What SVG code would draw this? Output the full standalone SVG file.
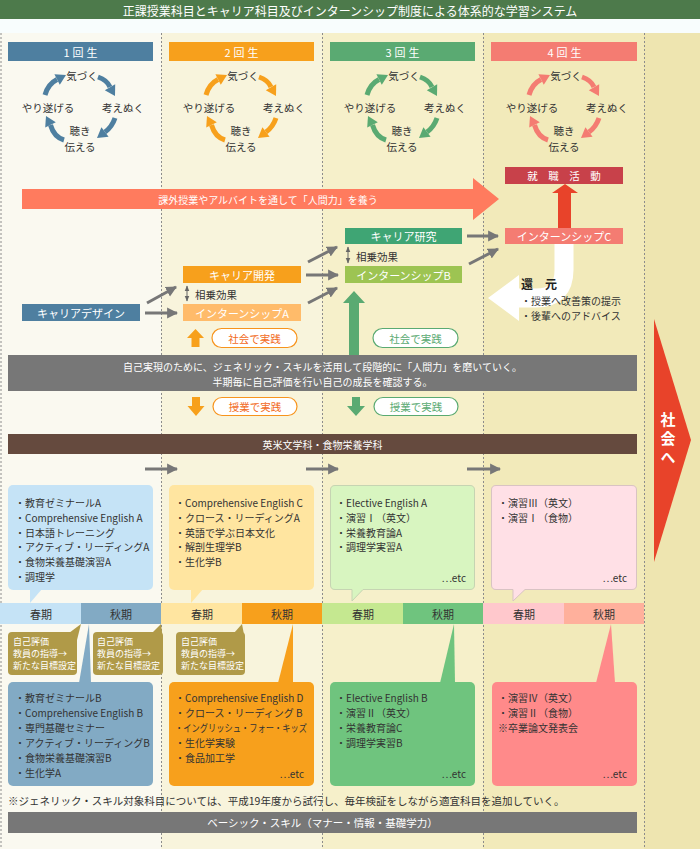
<svg xmlns="http://www.w3.org/2000/svg" width="700" height="849" viewBox="0 0 700 849">
<defs>
<style>
text{font-family:"Noto Sans CJK JP","Noto Sans",sans-serif;}
.c{text-anchor:middle;dominant-baseline:central}
.m{dominant-baseline:central}
.e{text-anchor:end;dominant-baseline:central}
.w{fill:#fff}
.d{fill:#333}
.f9{font-size:9px}
.f10{font-size:10px}
.f105{font-size:10.5px}
.f11{font-size:11px}
.f12{font-size:12px}
.yr{font-size:11px;letter-spacing:3px}
.dash{stroke:#8c8c8c;stroke-width:1;stroke-dasharray:2 2;fill:none}
.conn{stroke:#777;stroke-width:3;fill:none;marker-end:url(#ah)}
.dbl{stroke:#666;stroke-width:1;fill:none;marker-start:url(#dh);marker-end:url(#dh)}
.cs{stroke:currentColor;stroke-width:5;fill:none}
.cf{fill:currentColor}
.ev{fill:#B09A48}
</style>
<marker id="ah" viewBox="0 0 10 10" refX="9" refY="5" markerWidth="11" markerHeight="12" markerUnits="userSpaceOnUse" orient="auto"><path d="M0,0L10,5L0,10z" fill="#777"/></marker>
<marker id="dh" viewBox="0 0 10 10" refX="9" refY="5" markerWidth="6" markerHeight="6" markerUnits="userSpaceOnUse" orient="auto-start-reverse"><path d="M0,1L10,5L0,9z" fill="#666"/></marker>
<g id="cyc">
<path class="cs" d="M-35,-15Q-32,-26 -23,-30.5"/>
<polygon class="cf" points="-14,-35 -20.2,-25.2 -25.6,-35.8"/>
<path class="cs" d="M18,-33Q27,-30 30,-23"/>
<polygon class="cf" points="35,-14 35.2,-25.7 24.8,-19.7"/>
<path class="cs" d="M35,8Q32,17 25,22"/>
<polygon class="cf" points="17,28 28.6,26.8 21.4,17.2"/>
<path class="cs" d="M-16,30Q-26,27 -29.5,15"/>
<polygon class="cf" points="-34,6 -24.2,12.2 -34.8,17.6"/>
</g>
</defs>

<g id="background">
<rect x="0" y="0" width="700" height="849" fill="#F8FDFD"/>
<rect x="0" y="33" width="161" height="816" fill="#FAF9F0"/>
<rect x="161" y="33" width="161" height="816" fill="#F8F4DC"/>
<rect x="322" y="33" width="161" height="816" fill="#F6F0CA"/>
<rect x="483" y="33" width="161" height="816" fill="#F2EABA"/>
<rect x="644" y="33" width="56" height="816" fill="#EEE5B0"/>
<path class="dash" d="M1,33V849M161.5,33V849M322.5,33V849M483.5,33V849M644.5,33V849"/>
</g>

<g id="title">
<rect x="0" y="0" width="700" height="19" fill="#4D7A4B"/>
<text class="c w f12" x="350" y="10">正課授業科目とキャリア科目及びインターンシップ制度による体系的な学習システム</text>
</g>

<g id="year1">
<rect x="8" y="42" width="145" height="19" fill="#4E7FA0"/>
<text class="c w yr" x="82" y="51.5">1回生</text>
<use href="#cyc" x="80" y="110" style="color:#4E7FA0"/>
<text class="c d f105" x="82" y="75">気づく</text>
<text class="c d f105" x="48" y="107">やり遂げる</text>
<text class="c d f105" x="123" y="107">考えぬく</text>
<text class="c d f105" x="80" y="130.5">聴き</text>
<text class="c d f105" x="80" y="146">伝える</text>
</g>
<g id="year2">
<rect x="169" y="42" width="145" height="19" fill="#F7A01C"/>
<text class="c w yr" x="243" y="51.5">2回生</text>
<use href="#cyc" x="241" y="110" style="color:#F7A01C"/>
<text class="c d f105" x="243" y="75">気づく</text>
<text class="c d f105" x="209" y="107">やり遂げる</text>
<text class="c d f105" x="284" y="107">考えぬく</text>
<text class="c d f105" x="241" y="130.5">聴き</text>
<text class="c d f105" x="241" y="146">伝える</text>
</g>
<g id="year3">
<rect x="330" y="42" width="145" height="19" fill="#5AAA72"/>
<text class="c w yr" x="404" y="51.5">3回生</text>
<use href="#cyc" x="402" y="110" style="color:#5AAA72"/>
<text class="c d f105" x="404" y="75">気づく</text>
<text class="c d f105" x="370" y="107">やり遂げる</text>
<text class="c d f105" x="445" y="107">考えぬく</text>
<text class="c d f105" x="402" y="130.5">聴き</text>
<text class="c d f105" x="402" y="146">伝える</text>
</g>
<g id="year4">
<rect x="491" y="42" width="146" height="19" fill="#F47C72"/>
<text class="c w yr" x="566" y="51.5">4回生</text>
<use href="#cyc" x="564" y="110" style="color:#F47C72"/>
<text class="c d f105" x="566" y="75">気づく</text>
<text class="c d f105" x="532" y="107">やり遂げる</text>
<text class="c d f105" x="607" y="107">考えぬく</text>
<text class="c d f105" x="564" y="130.5">聴き</text>
<text class="c d f105" x="564" y="146">伝える</text>
</g>

<g id="extracurricular">
<polygon points="22,189 473,189 473,178 499,199 473,220 473,209 22,209" fill="#FF7B5E"/>
<text class="c w f10" x="268" y="199">課外授業やアルバイトを通して「人間力」を養う</text>
</g>

<g id="job-hunting">
<rect x="505" y="167" width="118" height="17" fill="#C8414A"/>
<text class="c w f105" x="564" y="175.5">就　職　活　動</text>
</g>
<g id="return">
<path d="M564,244V270Q564,298 536,298H516" stroke="#fff" stroke-width="19" fill="none"/>
<polygon points="519,275 488,298 519,321" fill="#fff"/>
<text class="m f12" x="521" y="283" font-weight="bold" fill="#222">還　元</text>
<text class="m f10 d" x="521" y="300">・授業へ改善策の提示</text>
<text class="m f10 d" x="521" y="315">・後輩へのアドバイス</text>
</g>
<g id="up-to-job">
<polygon points="558,228 558,193 552,193 565,184 578,193 571,193 571,228" fill="#E8432A"/>
</g>
<g id="internship-c">
<rect x="505" y="228" width="118" height="16" fill="#F47C72"/>
<text class="c w f11" x="564" y="236">インターンシップC</text>
</g>
<g id="career-research">
<rect x="345" y="228" width="117" height="16" fill="#3FA574"/>
<text class="c w f11" x="403.5" y="236">キャリア研究</text>
</g>
<g id="internship-b">
<rect x="345" y="266" width="117" height="17" fill="#9DC452"/>
<text class="c w f11" x="403.5" y="274.5">インターンシップB</text>
</g>
<g id="career-dev">
<rect x="183" y="266" width="118" height="17" fill="#F7A01C"/>
<text class="c w f11" x="242" y="274.5">キャリア開発</text>
</g>
<g id="internship-a">
<rect x="183" y="304" width="118" height="17" fill="#FFBB6A"/>
<text class="c w f11" x="242" y="312.5">インターンシップA</text>
</g>
<g id="career-design">
<rect x="22" y="304" width="118" height="17" fill="#4E7FA0"/>
<text class="c w f11" x="81" y="312.5">キャリアデザイン</text>
</g>

<g id="connectors">
<path class="conn" d="M145,313H177"/>
<path class="conn" d="M147,303L176,287"/>
<path class="conn" d="M306,275H338"/>
<path class="conn" d="M308,262L337,247"/>
<path class="conn" d="M308,303L337,288"/>
<path class="conn" d="M467,236H498"/>
<path class="conn" d="M469,264L498,249"/>
<path class="conn" d="M145,469H177"/>
<path class="conn" d="M306,469H338"/>
<path class="conn" d="M467,469H500"/>
<path class="dbl" d="M187,286V301"/>
<path class="dbl" d="M348,247V263"/>
</g>
<g id="synergy">
<text class="m f105 d" x="195" y="294">相乗効果</text>
<text class="m f105 d" x="356" y="256">相乗効果</text>
</g>

<g id="practice-society-2">
<polygon points="191.5,347 191.5,338 187,338 195.5,329 204,338 199.5,338 199.5,347" fill="#F7A01C"/>
<rect x="212" y="328.5" width="85" height="19" rx="9.5" fill="#fff" stroke="#F7941D" stroke-width="1.2"/>
<text class="c f105" x="254.5" y="338" fill="#F26B1D">社会で実践</text>
</g>
<g id="practice-society-3">
<polygon points="349,355 349,303 343,303 354,291 365,303 359,303 359,355" fill="#5AAA72"/>
<rect x="373" y="328.5" width="85" height="19" rx="9.5" fill="#fff" stroke="#5AAA72" stroke-width="1.2"/>
<text class="c f105" x="415.5" y="338" fill="#5AAA72">社会で実践</text>
</g>

<g id="self-realization">
<rect x="8" y="355" width="629" height="36" fill="#777"/>
<text class="c w f10" x="322.5" y="366">自己実現のために、ジェネリック・スキルを活用して段階的に「人間力」を磨いていく。</text>
<text class="c w f10" x="322.5" y="381">半期毎に自己評価を行い自己の成長を確認する。</text>
</g>

<g id="practice-class-2">
<polygon points="192,397 200,397 200,406 204.5,406 196,416 187.5,406 192,406" fill="#F7A01C"/>
<rect x="213" y="397.5" width="84" height="18" rx="9" fill="#fff" stroke="#F7941D" stroke-width="1.2"/>
<text class="c f105" x="255" y="406.5" fill="#F26B1D">授業で実践</text>
</g>
<g id="practice-class-3">
<polygon points="352,397 360,397 360,406 365,406 356,416 347,406 352,406" fill="#5AAA72"/>
<rect x="374" y="397.5" width="84" height="18" rx="9" fill="#fff" stroke="#5AAA72" stroke-width="1.2"/>
<text class="c f105" x="416" y="406.5" fill="#5AAA72">授業で実践</text>
</g>

<g id="to-society">
<polygon points="654,319 691,440 654,562" fill="#E8432A"/>
<text class="w" x="668" y="440.5" writing-mode="vertical-rl" text-anchor="middle" font-size="15" font-weight="bold" letter-spacing="4">社会へ</text>
</g>

<g id="department">
<rect x="8" y="434" width="629" height="20" fill="#654A3E"/>
<text class="c w f10" x="322.5" y="444">英米文学科・食物栄養学科</text>
</g>

<g id="spring1">
<rect x="8" y="485" width="145" height="105" rx="5" fill="#C5E3F6"/>
<polygon points="30,589 30,603 42,589" fill="#C5E3F6"/>
<text class="m f10 d" x="15" y="502">・教育ゼミナールA</text>
<text class="m f10 d" x="15" y="517">・Comprehensive English A</text>
<text class="m f10 d" x="15" y="532">・日本語トレーニング</text>
<text class="m f10 d" x="15" y="546">・アクティブ・リーディングA</text>
<text class="m f10 d" x="15" y="561">・食物栄養基礎演習A</text>
<text class="m f10 d" x="15" y="576">・調理学</text>
</g>
<g id="spring2">
<rect x="169" y="485" width="145" height="105" rx="5" fill="#FFE5A0"/>
<polygon points="191,589 191,603 203,589" fill="#FFE5A0"/>
<text class="m f10 d" x="175" y="502">・Comprehensive English C</text>
<text class="m f10 d" x="175" y="517">・クロース・リーディングA</text>
<text class="m f10 d" x="175" y="532">・英語で学ぶ日本文化</text>
<text class="m f10 d" x="175" y="546">・解剖生理学B</text>
<text class="m f10 d" x="175" y="561">・生化学B</text>
</g>
<g id="spring3">
<path d="M335,485.5H470Q474.5,485.5 474.5,490V585Q474.5,589.5 470,589.5H363L352,601V589.5H335Q330.5,589.5 330.5,585V490Q330.5,485.5 335,485.5Z" fill="#D8F5C0" stroke="#C6D4B2"/>
<text class="m f10 d" x="336" y="502">・Elective English A</text>
<text class="m f10 d" x="336" y="517">・演習Ⅰ（英文）</text>
<text class="m f10 d" x="336" y="532">・栄養教育論A</text>
<text class="m f10 d" x="336" y="546">・調理学実習A</text>
<text class="e f10 d" x="466" y="577">…etc</text>
</g>
<g id="spring4">
<path d="M496,485.5H632Q636.5,485.5 636.5,490V585Q636.5,589.5 632,589.5H525L513,601V589.5H496Q491.5,589.5 491.5,585V490Q491.5,485.5 496,485.5Z" fill="#FFE0E6" stroke="#D9C3C3"/>
<text class="m f10 d" x="498" y="502">・演習Ⅲ（英文）</text>
<text class="m f10 d" x="498" y="517">・演習Ⅰ（食物）</text>
<text class="e f10 d" x="627" y="577">…etc</text>
</g>

<g id="seasons">
<rect x="0" y="603" width="81" height="21" fill="#C5E3F6"/>
<rect x="81" y="603" width="80" height="21" fill="#82AAC4"/>
<rect x="161" y="603" width="81" height="21" fill="#FFE5A0"/>
<rect x="242" y="603" width="80" height="21" fill="#F7A01C"/>
<rect x="322" y="603" width="81" height="21" fill="#C5E890"/>
<rect x="403" y="603" width="80" height="21" fill="#6FC47E"/>
<rect x="483" y="603" width="81" height="21" fill="#FFC8CC"/>
<rect x="564" y="603" width="80" height="21" fill="#FFB09C"/>
<text class="c f11 d" x="41" y="613.5">春期</text>
<text class="c f11 d" x="121" y="613.5">秋期</text>
<text class="c f11 d" x="202" y="613.5">春期</text>
<text class="c f11 d" x="282" y="613.5">秋期</text>
<text class="c f11 d" x="363" y="613.5">春期</text>
<text class="c f11 d" x="443" y="613.5">秋期</text>
<text class="c f11 d" x="524" y="613.5">春期</text>
<text class="c f11 d" x="604" y="613.5">秋期</text>
</g>

<g id="eval1">
<rect class="ev" x="8" y="632" width="69" height="43" rx="4"/>
<polygon class="ev" points="69,633 81,624 77,640"/>
<text class="m w f9" x="13" y="641">自己評価</text>
<text class="m w f9" x="13" y="653">教員の指導→</text>
<text class="m w f9" x="13" y="665">新たな目標設定</text>
</g>
<g id="eval2">
<rect class="ev" x="93" y="632" width="70" height="43" rx="4"/>
<polygon class="ev" points="152,633 161,624 163,640"/>
<text class="m w f9" x="97" y="641">自己評価</text>
<text class="m w f9" x="97" y="653">教員の指導→</text>
<text class="m w f9" x="97" y="665">新たな目標設定</text>
</g>
<g id="eval3">
<rect class="ev" x="176" y="632" width="69" height="43" rx="4"/>
<polygon class="ev" points="234,633 242,624 245,640"/>
<text class="m w f9" x="181" y="641">自己評価</text>
<text class="m w f9" x="181" y="653">教員の指導→</text>
<text class="m w f9" x="181" y="665">新たな目標設定</text>
</g>

<g id="autumn1">
<polygon points="89,624 79,683 91,683" fill="#82AAC4"/>
<rect x="8" y="682" width="145" height="104" rx="5" fill="#82AAC4"/>
<text class="m f10 d" x="15" y="697">・教育ゼミナールB</text>
<text class="m f10 d" x="15" y="712">・Comprehensive English B</text>
<text class="m f10 d" x="15" y="727">・専門基礎セミナー</text>
<text class="m f10 d" x="15" y="742">・アクティブ・リーディングB</text>
<text class="m f10 d" x="15" y="757">・食物栄養基礎演習B</text>
<text class="m f10 d" x="15" y="772">・生化学A</text>
</g>
<g id="autumn2">
<polygon points="293,624 278,683 293,683" fill="#F7A01C"/>
<rect x="169" y="682" width="145" height="104" rx="5" fill="#F7A01C"/>
<text class="m f10 d" x="175" y="697">・Comprehensive English D</text>
<text class="m f10 d" x="175" y="712">・クロース・リーディング B</text>
<text class="m f10 d" x="175" y="727" textLength="132" lengthAdjust="spacingAndGlyphs">・イングリッシュ・フォー・キッズ</text>
<text class="m f10 d" x="175" y="742">・生化学実験</text>
<text class="m f10 d" x="175" y="757">・食品加工学</text>
<text class="e f10 d" x="304" y="773">…etc</text>
</g>
<g id="autumn3">
<polygon points="454,624 440,683 455,683" fill="#6FC47E"/>
<rect x="330" y="682" width="145" height="104" rx="5" fill="#6FC47E"/>
<text class="m f10 d" x="336" y="697">・Elective English B</text>
<text class="m f10 d" x="336" y="712">・演習Ⅱ（英文）</text>
<text class="m f10 d" x="336" y="727">・栄養教育論C</text>
<text class="m f10 d" x="336" y="742">・調理学実習B</text>
<text class="e f10 d" x="466" y="773">…etc</text>
</g>
<g id="autumn4">
<polygon points="611,624 596,683 615,683" fill="#FF8A8A"/>
<rect x="492" y="682" width="145" height="104" rx="5" fill="#FF8A8A"/>
<text class="m f10 d" x="498" y="697">・演習Ⅳ（英文）</text>
<text class="m f10 d" x="498" y="712">・演習Ⅱ（食物）</text>
<text class="m f10 d" x="498" y="727">※卒業論文発表会</text>
<text class="e f10 d" x="627" y="773">…etc</text>
</g>

<g id="footnote">
<text class="m f105 d" x="8" y="800">※ジェネリック・スキル対象科目については、平成19年度から試行し、毎年検証をしながら適宜科目を追加していく。</text>
</g>
<g id="basic-skill">
<rect x="8" y="812" width="629" height="21" fill="#777"/>
<text class="c w f105" x="322.5" y="822.5">ベーシック・スキル（マナー・情報・基礎学力）</text>
</g>
</svg>
